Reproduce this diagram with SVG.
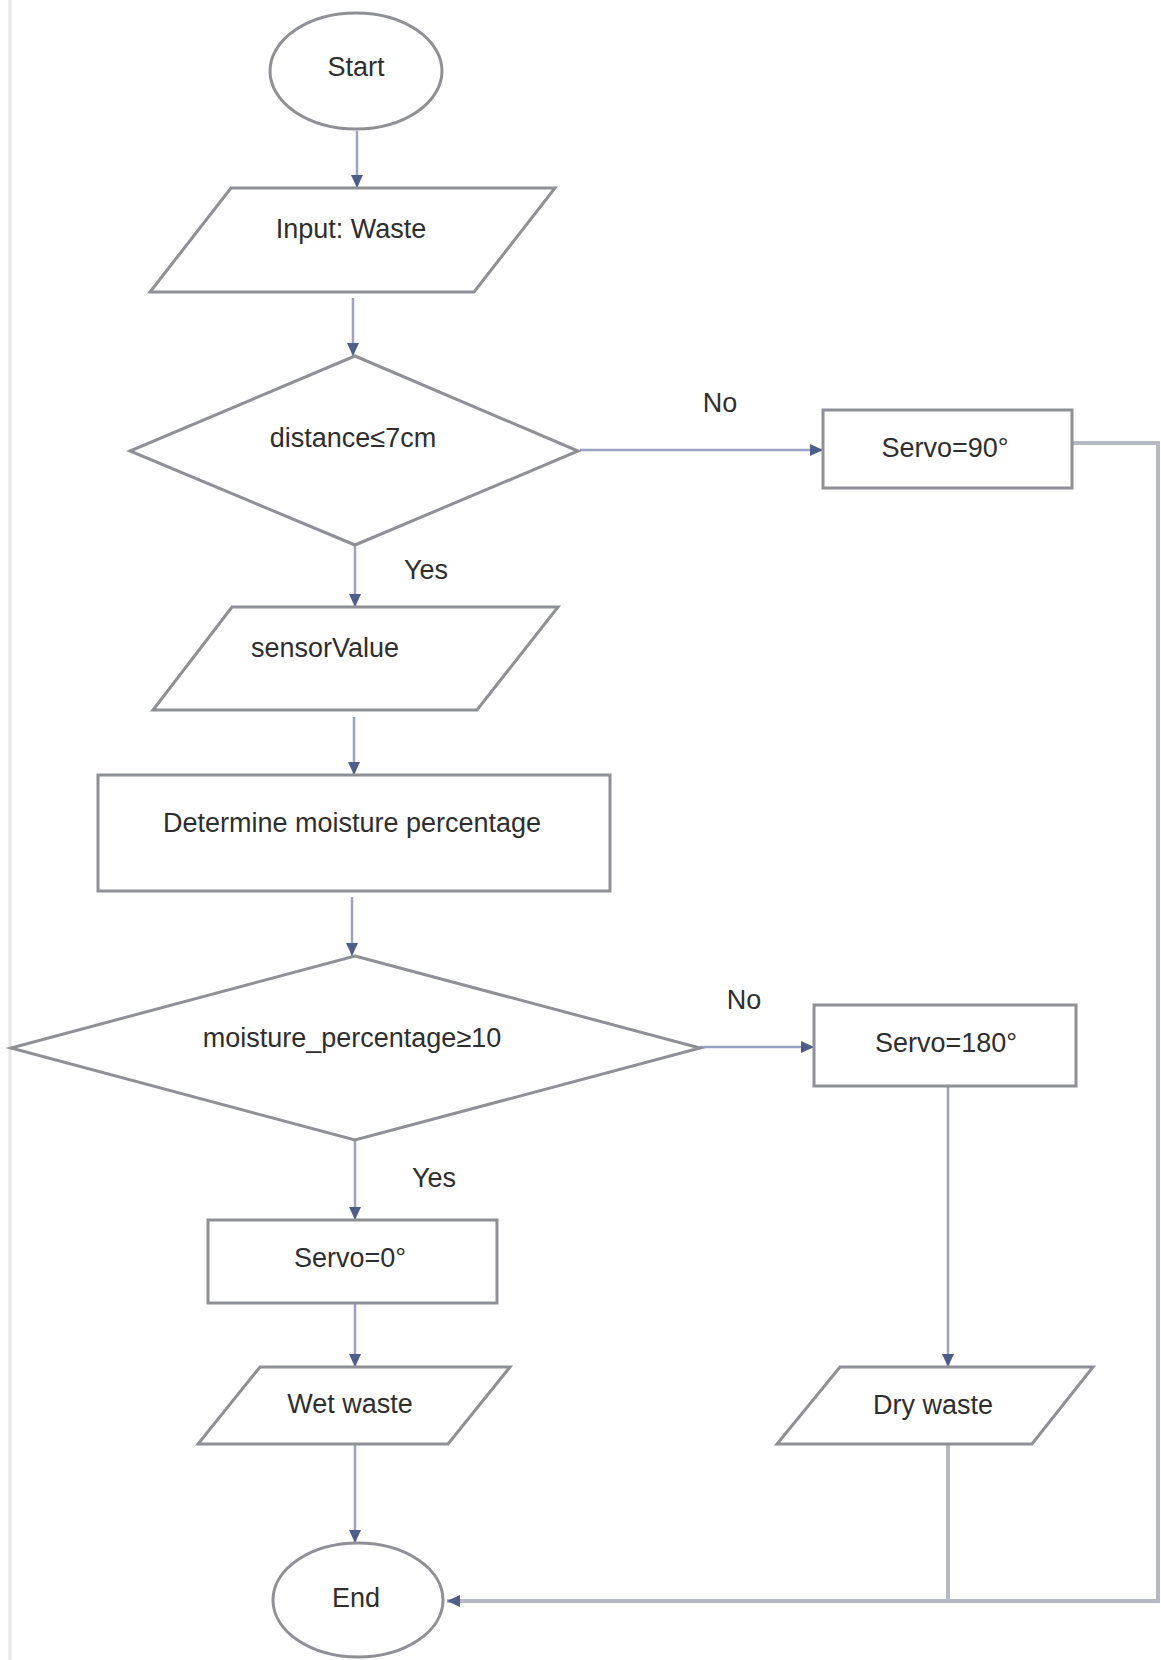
<svg xmlns="http://www.w3.org/2000/svg" width="1161" height="1660" viewBox="0 0 1161 1660">
<style>
.shape{fill:#fff;stroke:#8e9096;stroke-width:3}
.t{font-family:"Liberation Sans",Arial,sans-serif;font-size:27px;fill:#2e2e2e;text-anchor:middle}
.c{fill:none;stroke:#9aa3c2;stroke-width:2.5}
.r{fill:none;stroke:#b4b9c4;stroke-width:4}
</style>
<defs>
<marker id="ah" markerUnits="userSpaceOnUse" markerWidth="14" markerHeight="14" viewBox="0 0 14 14" refX="13" refY="7" orient="auto">
<path d="M0,1 L13,7 L0,13 z" fill="#4e5e88"/>
</marker>
</defs>
<rect width="1161" height="1660" fill="#fff"/>
<line x1="10" y1="0" x2="10" y2="1660" stroke="#e6e6e6" stroke-width="3"/>
<g id="connectors">
<line class="c" x1="357" y1="131" x2="357" y2="188" marker-end="url(#ah)"/>
<line class="c" x1="353" y1="298" x2="353" y2="356" marker-end="url(#ah)"/>
<line class="c" x1="580" y1="450" x2="823" y2="450" marker-end="url(#ah)"/>
<line class="c" x1="355" y1="545" x2="355" y2="607" marker-end="url(#ah)"/>
<line class="c" x1="354" y1="717" x2="354" y2="775" marker-end="url(#ah)"/>
<line class="c" x1="352" y1="897" x2="352" y2="956" marker-end="url(#ah)"/>
<line class="c" x1="700" y1="1047" x2="814" y2="1047" marker-end="url(#ah)"/>
<line class="c" x1="355" y1="1140" x2="355" y2="1220" marker-end="url(#ah)"/>
<line class="c" x1="355" y1="1304" x2="355" y2="1367" marker-end="url(#ah)"/>
<line class="c" x1="948" y1="1086" x2="948" y2="1367" marker-end="url(#ah)"/>
<line class="c" x1="355" y1="1444" x2="355" y2="1543" marker-end="url(#ah)"/>
<polyline class="r" points="1073,443 1158,443 1158,1601 447,1601" marker-end="url(#ah)"/>
<line class="r" x1="948" y1="1444" x2="948" y2="1601"/>
<text class="t" x="720" y="412">No</text>
<text class="t" x="426" y="579">Yes</text>
<text class="t" x="744" y="1009">No</text>
<text class="t" x="434" y="1187">Yes</text>
</g>
<g id="start">
<ellipse class="shape" cx="356" cy="71" rx="86" ry="58"/>
<text class="t" x="356" y="76">Start</text>
</g>
<g id="input">
<polygon class="shape" points="231,188 555,188 474,292 150,292"/>
<text class="t" x="351" y="238">Input: Waste</text>
</g>
<g id="decision1">
<polygon class="shape" points="355,356 578,451 355,545 130,451"/>
<text class="t" x="353" y="447">distance≤7cm</text>
</g>
<g id="servo90">
<rect class="shape" x="823" y="410" width="249" height="78"/>
<text class="t" x="945" y="457">Servo=90°</text>
</g>
<g id="sensorvalue">
<polygon class="shape" points="232,607 558,607 477,710 153,710"/>
<text class="t" x="325" y="657">sensorValue</text>
</g>
<g id="determine">
<rect class="shape" x="98" y="775" width="512" height="116"/>
<text class="t" x="352" y="832">Determine moisture percentage</text>
</g>
<g id="decision2">
<polygon class="shape" points="355,956 700,1048 355,1140 11,1048"/>
<text class="t" x="352" y="1047">moisture_percentage≥10</text>
</g>
<g id="servo180">
<rect class="shape" x="814" y="1005" width="262" height="81"/>
<text class="t" x="946" y="1052">Servo=180°</text>
</g>
<g id="servo0">
<rect class="shape" x="208" y="1220" width="289" height="83"/>
<text class="t" x="350" y="1267">Servo=0°</text>
</g>
<g id="wetwaste">
<polygon class="shape" points="260,1367 510,1367 448,1444 198,1444"/>
<text class="t" x="350" y="1413">Wet waste</text>
</g>
<g id="drywaste">
<polygon class="shape" points="840,1367 1093,1367 1032,1444 777,1444"/>
<text class="t" x="933" y="1414">Dry waste</text>
</g>
<g id="end">
<ellipse class="shape" cx="358" cy="1600" rx="85" ry="57"/>
<text class="t" x="356" y="1607">End</text>
</g>
</svg>
